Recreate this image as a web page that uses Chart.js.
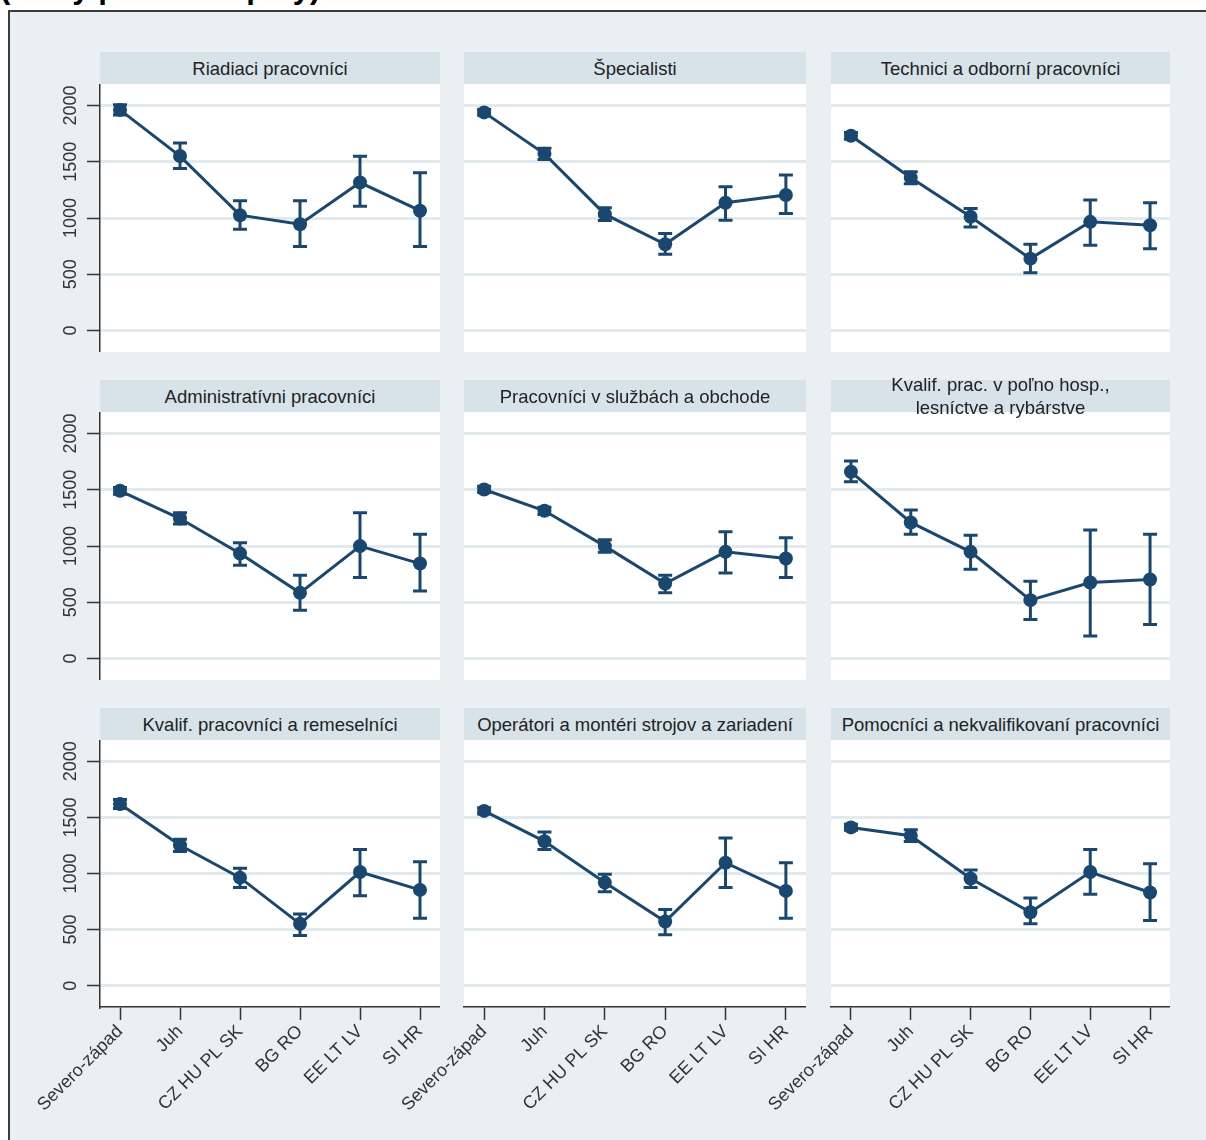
<!DOCTYPE html>
<html>
<head>
<meta charset="utf-8">
<script src="https://cdn.jsdelivr.net/npm/chart.js@4.4.1/dist/chart.umd.min.js"></script>
<style>
  body { margin: 0; width: 1206px; height: 1140px; overflow: hidden; position: relative; background: #fff;
         font-family: "Liberation Sans", Arial, sans-serif; }
  #cut { position: absolute; left: 0; top: -30px; font: bold 31px "Liberation Sans", Arial, sans-serif; color: #000; white-space: nowrap; }
  #frame { position: absolute; left: 8px; top: 10px; width: 1210px; height: 1150px; box-sizing: border-box;
           border: 2px solid #3c3c3c; background: #e9eff2; }
  .head { position: absolute; z-index: 2; height: 32px; background: #d8e2e9; color: #222; font-size: 18.5px; line-height: 23px;
          display: flex; align-items: center; justify-content: center; text-align: center; white-space: pre-line; }
  canvas { position: absolute; z-index: 1; }
</style>
</head>
<body>
<div id="cut">(mzdy podľa skupiny)</div>
<div id="frame"></div>
<script>
"use strict";
const categories = ["Severo-západ", "Juh", "CZ HU PL SK", "BG RO", "EE LT LV", "SI HR"];
const yTicks = [0, 500, 1000, 1500, 2000];

const panelTitles = [
  "Riadiaci pracovníci",
  "Špecialisti",
  "Technici a odborní pracovníci",
  "Administratívni pracovníci",
  "Pracovníci v službách a obchode",
  "Kvalif. prac. v poľno hosp.,\nlesníctve a rybárstve",
  "Kvalif. pracovníci a remeselníci",
  "Operátori a montéri strojov a zariadení",
  "Pomocníci a nekvalifikovaní pracovníci"
];

// mean per region, one row per panel
const meanValues = [
  [1960, 1550, 1025, 945, 1315, 1065],
  [1938, 1570, 1034, 767, 1135, 1204],
  [1730, 1358, 1011, 639, 966, 936],
  [1490, 1244, 933, 584, 999, 844],
  [1502, 1313, 999, 667, 948, 889],
  [1659, 1209, 948, 519, 676, 702],
  [1620, 1252, 963, 551, 1013, 854],
  [1558, 1287, 919, 572, 1096, 845],
  [1411, 1337, 955, 654, 1013, 831]
];
// lower end of the interval
const lowValues = [
  [1915, 1440, 900, 748, 1104, 748],
  [1912, 1520, 978, 678, 981, 1041],
  [1700, 1305, 921, 514, 758, 728],
  [1460, 1195, 830, 430, 720, 601],
  [1475, 1280, 945, 584, 761, 720],
  [1570, 1105, 794, 347, 201, 302],
  [1580, 1195, 875, 448, 801, 601],
  [1530, 1214, 837, 454, 875, 601],
  [1385, 1285, 875, 551, 816, 580]
];
// upper end of the interval
const highValues = [
  [2005, 1665, 1154, 1154, 1549, 1401],
  [1964, 1620, 1090, 862, 1278, 1382],
  [1760, 1410, 1085, 767, 1159, 1135],
  [1520, 1295, 1028, 741, 1295, 1105],
  [1530, 1345, 1055, 741, 1126, 1073],
  [1754, 1319, 1096, 687, 1141, 1105],
  [1660, 1305, 1046, 639, 1214, 1105],
  [1585, 1370, 993, 678, 1317, 1096],
  [1440, 1390, 1031, 781, 1214, 1087]
];

const NAVY = "#1a476f";
const GRID = "#e3eaee";
const AXIS = "#333";
const FONT = "'Liberation Sans', Arial, sans-serif";
const AXW = 90;     // room left of each plot for the y axis / rotated labels
const XAXH = 130;   // room under the bottom row for the x axis

const cols = [{ left: 100, w: 340 }, { left: 464, w: 342 }, { left: 831, w: 339 }];
const rows = [{ head: 52, top: 84, bottom: 352 }, { head: 380, top: 412, bottom: 680 }, { head: 708, top: 740, bottom: 1007 }];

const plotBg = {
  id: "plotBg",
  beforeDraw(chart) {
    const { ctx, chartArea: a } = chart;
    ctx.save();
    ctx.fillStyle = "#fff";
    ctx.fillRect(a.left, a.top, a.right - a.left, a.bottom - a.top);
    ctx.restore();
  }
};

const errorBars = {
  id: "errorBars",
  beforeDatasetsDraw(chart, args, opts) {
    const { ctx, scales: { x, y } } = chart;
    ctx.save();
    ctx.strokeStyle = NAVY;
    ctx.lineWidth = 3;
    opts.lo.forEach((lo, i) => {
      const px = x.getPixelForValue(i);
      const top = y.getPixelForValue(opts.hi[i]);
      const bot = y.getPixelForValue(lo);
      ctx.beginPath();
      ctx.moveTo(px, top); ctx.lineTo(px, bot);
      ctx.moveTo(px - 7, top); ctx.lineTo(px + 7, top);
      ctx.moveTo(px - 7, bot); ctx.lineTo(px + 7, bot);
      ctx.stroke();
    });
    ctx.restore();
  }
};

function makePanel(p) {
  const r = Math.floor(p / 3), c = p % 3;
  const col = cols[c], row = rows[r];
  const isLeft = c === 0, isBottom = r === 2;

  const head = document.createElement("div");
  head.className = "head";
  head.style.left = col.left + "px";
  head.style.top = row.head + "px";
  head.style.width = col.w + "px";
  head.textContent = panelTitles[p];
  document.body.appendChild(head);

  const cv = document.createElement("canvas");
  const w = col.w + AXW;
  const h = row.bottom - row.top + (isBottom ? XAXH : 0);
  cv.width = w; cv.height = h;
  cv.style.left = (col.left - AXW) + "px";
  cv.style.top = row.top + "px";
  cv.style.width = w + "px"; cv.style.height = h + "px";
  document.body.appendChild(cv);

  new Chart(cv, {
    type: "line",
    data: {
      datasets: [{
        data: meanValues[p].map((v, i) => ({ x: i, y: v })),
        borderColor: NAVY,
        backgroundColor: NAVY,
        pointBackgroundColor: NAVY,
        pointBorderColor: NAVY,
        pointRadius: 7,
        pointBorderWidth: 0,
        borderWidth: 3,
        tension: 0
      }]
    },
    options: {
      responsive: false,
      animation: false,
      events: [],
      layout: { padding: 0, autoPadding: false },
      plugins: {
        legend: { display: false },
        tooltip: { enabled: false },
        errorBars: { lo: lowValues[p], hi: highValues[p] }
      },
      scales: {
        x: {
          type: "linear",
          min: -1 / 3,
          max: 16 / 3,
          display: isBottom,
          afterBuildTicks: s => { s.ticks = categories.map((_, i) => ({ value: i })); },
          afterFit: s => {
            s.height = isBottom ? XAXH : 0;
            s.paddingLeft = 0; s.paddingRight = 0;
          },
          grid: { drawOnChartArea: false, drawTicks: true, tickLength: 13, tickWidth: 1.5, tickColor: AXIS },
          border: { display: true, color: AXIS, width: 1.5 },
          ticks: {
            autoSkip: false, minRotation: 45, maxRotation: 45, padding: 1,
            color: "#333", font: { size: 18, family: FONT },
            callback: v => categories[v]
          }
        },
        y: {
          min: -190,
          max: 2190,
          afterBuildTicks: s => { s.ticks = yTicks.map(v => ({ value: v })); },
          afterFit: s => { s.width = AXW; s.paddingTop = 0; s.paddingBottom = 0; },
          grid: { color: GRID, lineWidth: 3, drawTicks: isLeft, tickLength: 13, tickWidth: 1.5, tickColor: AXIS },
          border: { display: isLeft, color: AXIS, width: 1.5 },
          ticks: {
            display: isLeft, autoSkip: false, minRotation: 90, maxRotation: 90, crossAlign: "center", padding: -4,
            color: "#333", font: { size: 18, family: FONT },
            callback: v => String(v)
          }
        }
      }
    },
    plugins: [plotBg, errorBars]
  });
}

for (let p = 0; p < 9; p++) makePanel(p);
</script>
</body>
</html>
